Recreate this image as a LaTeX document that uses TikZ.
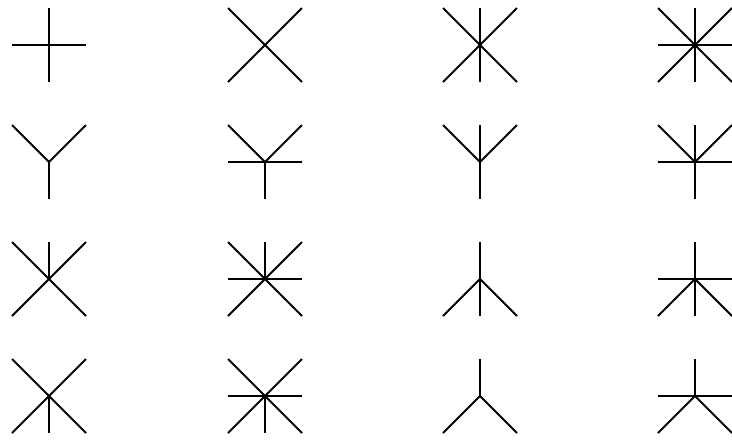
\documentclass[tikz,border=0pt]{standalone}
\begin{document}
\begin{tikzpicture}[x=1pt,y=-1pt,spoke/.style={line width=2pt,line cap=butt,black}]
\useasboundingbox (0,0) rectangle (732,440);
\def\h{37}
% segment helpers
\newcommand{\segV}{\draw[spoke] (0,-\h) -- (0,\h);}
\newcommand{\segVu}{\draw[spoke] (0,0) -- (0,-\h);}
\newcommand{\segVd}{\draw[spoke] (0,0) -- (0,\h);}
\newcommand{\segH}{\draw[spoke] (-\h,0) -- (\h,0);}
\newcommand{\segUp}{\draw[spoke] (-\h,-\h) -- (0,0) -- (\h,-\h);}
\newcommand{\segDn}{\draw[spoke] (-\h,\h) -- (0,0) -- (\h,\h);}
\newcommand{\segX}{\draw[spoke] (-\h,-\h) -- (\h,\h); \draw[spoke] (-\h,\h) -- (\h,-\h);}
% row 1
\begin{scope}[shift={(49,45)}]\segV\segH\end{scope}
\begin{scope}[shift={(265,45)}]\segX\end{scope}
\begin{scope}[shift={(480,45)}]\segX\segV\end{scope}
\begin{scope}[shift={(695,45)}]\segX\segV\segH\end{scope}
% row 2
\begin{scope}[shift={(49,162)}]\segUp\segVd\end{scope}
\begin{scope}[shift={(265,162)}]\segUp\segVd\segH\end{scope}
\begin{scope}[shift={(480,162)}]\segUp\segV\end{scope}
\begin{scope}[shift={(695,162)}]\segUp\segV\segH\end{scope}
% row 3
\begin{scope}[shift={(49,279)}]\segX\segVu\end{scope}
\begin{scope}[shift={(265,279)}]\segX\segVu\segH\end{scope}
\begin{scope}[shift={(480,279)}]\segDn\segV\end{scope}
\begin{scope}[shift={(695,279)}]\segDn\segV\segH\end{scope}
% row 4
\begin{scope}[shift={(49,396)}]\segX\segVd\end{scope}
\begin{scope}[shift={(265,396)}]\segX\segVd\segH\end{scope}
\begin{scope}[shift={(480,396)}]\segDn\segVu\end{scope}
\begin{scope}[shift={(695,396)}]\segDn\segVu\segH\end{scope}
\end{tikzpicture}
\end{document}
